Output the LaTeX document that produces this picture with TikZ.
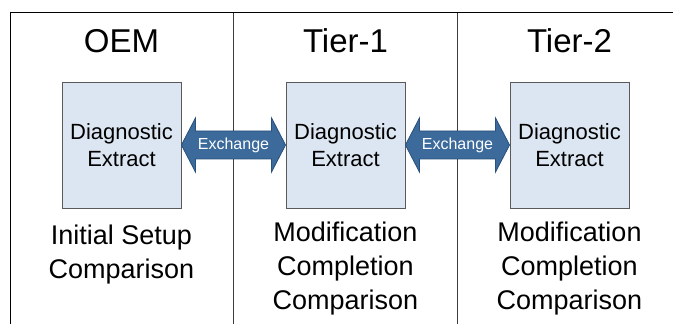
\documentclass[tikz,border=0pt]{standalone}
\usepackage{fontspec}
\setmainfont{Liberation Sans}
\usetikzlibrary{calc}
\definecolor{boxfill}{RGB}{220,230,242}
\definecolor{boxline}{RGB}{90,90,90}
\definecolor{arrowfill}{RGB}{59,106,155}
\definecolor{arrowline}{RGB}{40,80,125}
\definecolor{frameline}{RGB}{60,60,60}
\tikzset{
  extractbox/.style={draw=boxline, line width=0.9pt, fill=boxfill, minimum width=119pt, minimum height=126pt, inner sep=0pt, align=center, font=\fontsize{22}{27}\selectfont},
  colhead/.style={anchor=base, inner sep=0pt, font=\fontsize{33}{38}\selectfont},
  colfoot/.style={anchor=north, inner sep=0pt, align=center, font=\fontsize{27}{34}\selectfont},
  xarrow/.style={fill=arrowfill, draw=arrowline, line width=0.8pt, line join=miter},
  xlabel/.style={inner sep=0pt, text=white, font=\fontsize{16}{19}\selectfont},
  frame/.style={draw=frameline, line width=1pt}
}
\begin{document}
\begin{tikzpicture}[x=1pt,y=1pt]
\useasboundingbox (0,0) rectangle (673,324);
% frame
\coordinate (tl) at (10,311);
\coordinate (tr) at (673,311);
\coordinate (bl) at (10,0);
\coordinate (d1t) at (233,311);
\coordinate (d1b) at (233,0);
\coordinate (d2t) at (457,311);
\coordinate (d2b) at (457,0);
\draw[frame, draw=black] (bl) -- (tl) -- (tr);
\draw[frame] (d1t) -- (d1b);
\draw[frame] (d2t) -- (d2b);
% headings
\node[colhead] (h0) at (121.5,271) {OEM};
\node[colhead] (h1) at (345.5,271) {Tier-1};
\node[colhead] (h2) at (569.5,271) {Tier-2};
% boxes
\node[extractbox] (b0) at (121.5,179) {Diagnostic\\Extract};
\node[extractbox] (b1) at (345.5,179) {Diagnostic\\Extract};
\node[extractbox] (b2) at (569.5,179) {Diagnostic\\Extract};
% footers
\node[colfoot] (f0) at (121.5,99) {Initial Setup\\Comparison};
\node[colfoot] (f1) at (345.5,102) {Modification\\Completion\\Comparison};
\node[colfoot] (f2) at (569.5,102) {Modification\\Completion\\Comparison};
% exchange arrows
\draw[xarrow] (b0.east) -- ++(14,27) -- ++(0,-13) -- ($(b1.west)+(-14,14)$) -- ++(0,13) -- (b1.west) -- ++(-14,-27) -- ++(0,13) -- ($(b0.east)+(14,-14)$) -- ++(0,-13) -- cycle;
\node[xlabel] (x0) at ($(b0.east)!0.5!(b1.west)$) {Exchange};
\draw[xarrow] (b1.east) -- ++(14,27) -- ++(0,-13) -- ($(b2.west)+(-14,14)$) -- ++(0,13) -- (b2.west) -- ++(-14,-27) -- ++(0,13) -- ($(b1.east)+(14,-14)$) -- ++(0,-13) -- cycle;
\node[xlabel] (x1) at ($(b1.east)!0.5!(b2.west)$) {Exchange};
\end{tikzpicture}
\end{document}
